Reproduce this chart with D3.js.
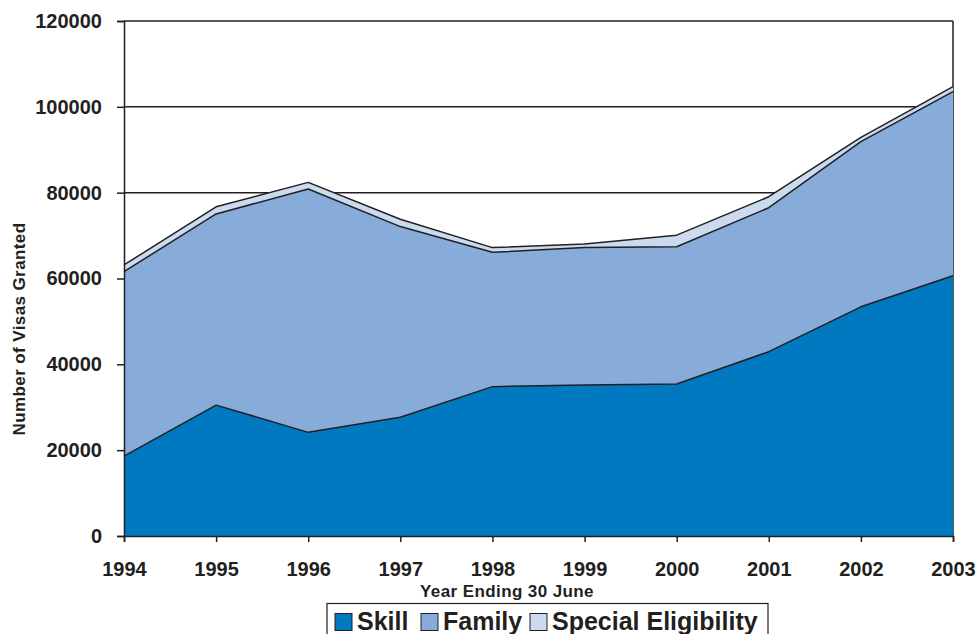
<!DOCTYPE html>
<html>
<head>
<meta charset="utf-8">
<script src="https://cdn.jsdelivr.net/npm/d3@7/dist/d3.min.js"></script>
<style>
  html, body { margin: 0; padding: 0; background: #fff; }
  svg { display: block; font-family: "Liberation Sans", Arial, sans-serif; font-weight: bold; }
</style>
</head>
<body>
<svg id="chart" width="978" height="634"></svg>
<script>
// Visa grants by stream, year ending 30 June
const years = [1994, 1995, 1996, 1997, 1998, 1999, 2000, 2001, 2002, 2003];
const skill = [18600, 30500, 24150, 27650, 34800, 35200, 35400, 42950, 53400, 60650];
const family = [43000, 44550, 56700, 44450, 31300, 32050, 32000, 33550, 38500, 42900];
const special = [1550, 1650, 1550, 1700, 1100, 800, 2700, 2550, 1000, 1150];
const seriesNames = ["Skill", "Family", "Special Eligibility"];
const seriesColors = ["#0079c1", "#88acda", "#cadbef"];
const yTicks = [0, 20000, 40000, 60000, 80000, 100000, 120000];

const svg = d3.select("#chart");
const plotLeft = 124, plotRight = 953, plotTop = 21, plotBottom = 536;
const ink = "#231f20";
const fontFamily = "'Liberation Sans', Arial, sans-serif";

const x = d3.scaleLinear().domain([years[0], years[years.length - 1]]).range([plotLeft, plotRight]);
const y = d3.scaleLinear().domain([0, 120000]).range([plotBottom, plotTop]);

const table = years.map((yr, i) => ({ year: yr, Skill: skill[i], Family: family[i], "Special Eligibility": special[i] }));
const stacked = d3.stack().keys(seriesNames)(table);

// Gridlines behind the areas
svg.append("g").selectAll("line")
  .data(yTicks.filter(v => v > 0))
  .join("line")
  .attr("x1", plotLeft).attr("x2", plotRight)
  .attr("y1", d => y(d)).attr("y2", d => y(d))
  .attr("stroke", ink).attr("stroke-width", 1.5);

// Plot frame right side
svg.append("line")
  .attr("x1", plotRight).attr("x2", plotRight).attr("y1", plotTop).attr("y2", plotBottom)
  .attr("stroke", ink).attr("stroke-width", 1.5);

const area = d3.area()
  .x(d => x(d.data.year))
  .y0(d => y(d[0]))
  .y1(d => y(d[1]));
const topLine = d3.line()
  .x(d => x(d.data.year))
  .y(d => y(d[1]));

const layers = svg.append("g");
stacked.forEach((s, i) => {
  layers.append("path").datum(s).attr("d", area).attr("fill", seriesColors[i]);
});
stacked.forEach((s) => {
  layers.append("path").datum(s).attr("d", topLine)
    .attr("fill", "none").attr("stroke", ink).attr("stroke-width", 1.5)
    .attr("stroke-linejoin", "round");
});

// Y axis
const yAxis = svg.append("g").attr("transform", `translate(${plotLeft},0)`)
  .call(d3.axisLeft(y).tickValues(yTicks).tickSize(7).tickPadding(15).tickFormat(d3.format("d")));
yAxis.select(".domain").attr("stroke", ink).attr("stroke-width", 1.5);
yAxis.selectAll(".tick line").attr("stroke", ink).attr("stroke-width", 1.5);
yAxis.selectAll("text").attr("font-size", 20).attr("fill", ink)
  .attr("font-family", fontFamily).attr("font-weight", "bold");

// X axis
const xAxis = svg.append("g").attr("transform", `translate(0,${plotBottom})`)
  .call(d3.axisBottom(x).tickValues(years).tickSize(6).tickPadding(20).tickFormat(d3.format("d")));
xAxis.select(".domain").attr("stroke", ink).attr("stroke-width", 1.5);
xAxis.selectAll(".tick line").attr("stroke", ink).attr("stroke-width", 1.5);
xAxis.selectAll("text").attr("font-size", 20).attr("fill", ink)
  .attr("font-family", fontFamily).attr("font-weight", "bold");

// Axis titles
svg.append("text")
  .attr("x", 507).attr("y", 597)
  .attr("text-anchor", "middle").attr("font-size", 17).attr("letter-spacing", 0.4).attr("fill", ink)
  .text("Year Ending 30 June");
svg.append("text")
  .attr("transform", "translate(25,329) rotate(-90)")
  .attr("text-anchor", "middle").attr("font-size", 17).attr("letter-spacing", 0.4).attr("fill", ink)
  .text("Number of Visas Granted");

// Legend
const legend = svg.append("g");
legend.append("rect")
  .attr("x", 327).attr("y", 603.5).attr("width", 441).attr("height", 40)
  .attr("fill", "#fff").attr("stroke", ink).attr("stroke-width", 1.2);
const legendX = [335, 421, 530];
seriesNames.forEach((name, i) => {
  legend.append("rect")
    .attr("x", legendX[i]).attr("y", 613.5).attr("width", 17).attr("height", 17)
    .attr("fill", seriesColors[i]).attr("stroke", ink).attr("stroke-width", 1);
  legend.append("text")
    .attr("x", legendX[i] + 22).attr("y", 630)
    .attr("font-size", 25).attr("fill", ink)
    .text(name);
});
</script>
</body>
</html>
